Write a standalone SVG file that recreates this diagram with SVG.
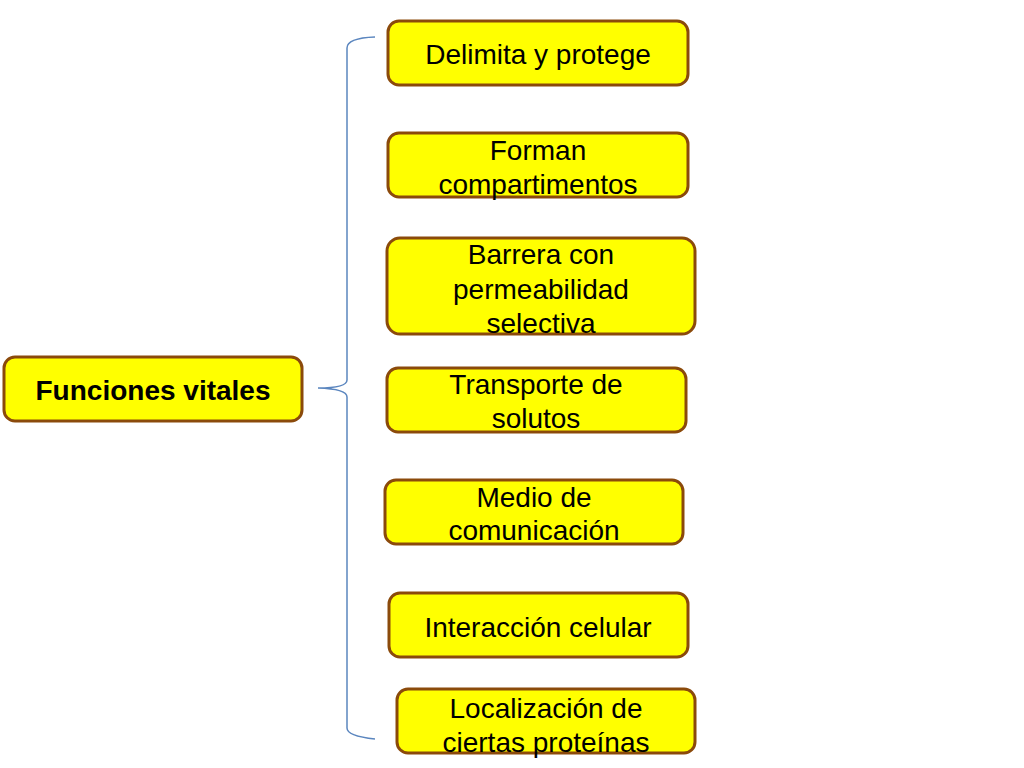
<svg xmlns="http://www.w3.org/2000/svg" width="1024" height="768" viewBox="0 0 1024 768">
<style>
.box{fill:#ffff00;stroke:#8b4a0b;stroke-width:3}
.t{font-family:"Liberation Sans",Arial,sans-serif;font-size:28px;fill:#000;text-anchor:middle}
.b{font-weight:bold}
.br{fill:none;stroke:#5b86bf;stroke-width:1.5}
</style>
<rect width="1024" height="768" fill="#fff"/>
<g id="connectors">
<path class="br" d="M375,37 Q347,38 347,48 L347,380 Q347,388 318,388 Q347,389 347,397 L347,728 Q347,736 375,739"/>
</g>
<g id="funciones">
<rect class="box" x="4" y="357" width="298" height="64" rx="11"/>
<text class="t b" x="153" y="400">Funciones vitales</text>
</g>
<g id="delimita">
<rect class="box" x="388" y="21" width="300" height="64" rx="11"/>
<text class="t" x="538" y="64">Delimita y protege</text>
</g>
<g id="forman">
<rect class="box" x="388" y="133" width="300" height="64" rx="11"/>
<text class="t" x="538" y="160">Forman</text>
<text class="t" x="538" y="194">compartimentos</text>
</g>
<g id="barrera">
<rect class="box" x="387" y="238" width="308" height="96" rx="13"/>
<text class="t" x="541" y="264">Barrera con</text>
<text class="t" x="541" y="299">permeabilidad</text>
<text class="t" x="541" y="333">selectiva</text>
</g>
<g id="transporte">
<rect class="box" x="387" y="368" width="299" height="64" rx="11"/>
<text class="t" x="536" y="394">Transporte de</text>
<text class="t" x="536" y="428">solutos</text>
</g>
<g id="medio">
<rect class="box" x="385" y="480" width="298" height="64" rx="11"/>
<text class="t" x="534" y="507">Medio de</text>
<text class="t" x="534" y="540">comunicación</text>
</g>
<g id="interaccion">
<rect class="box" x="389" y="593" width="299" height="64" rx="11"/>
<text class="t" x="538" y="637">Interacción celular</text>
</g>
<g id="localizacion">
<rect class="box" x="397" y="689" width="298" height="64" rx="11"/>
<text class="t" x="546" y="718">Localización de</text>
<text class="t" x="546" y="752">ciertas proteínas</text>
</g>
</svg>
